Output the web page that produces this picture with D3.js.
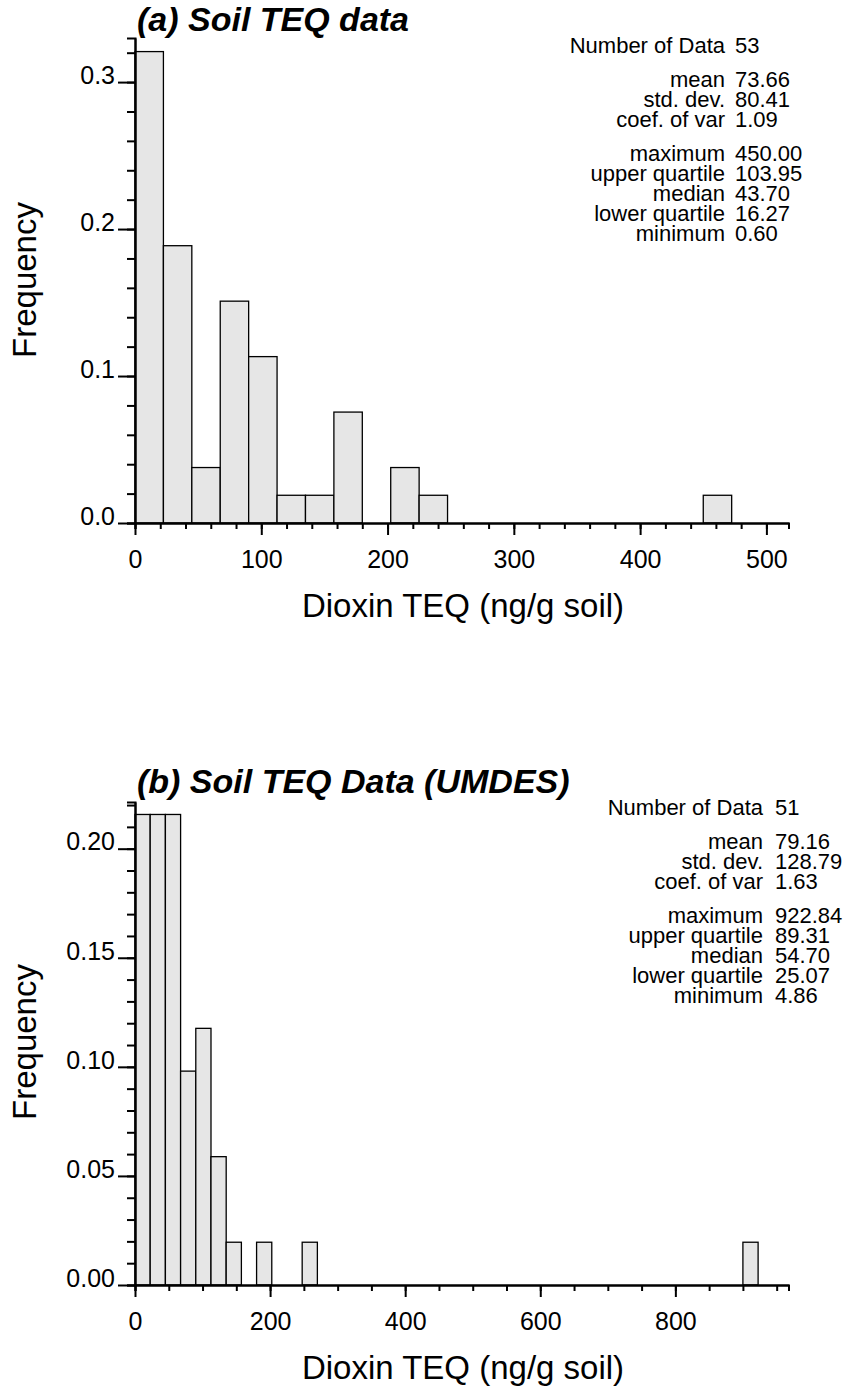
<!DOCTYPE html>
<html>
  <head>
    <meta charset="utf-8"/>
    <style>
    body {
      font-family: "Liberation Sans", Arial, sans-serif;
      margin: 0;
      background: #fff;
    }
    </style>
  </head>
  <body>
    <script src="https://d3js.org/d3.v7.min.js"></script>
    <script>
    var width = 851, height = 1387;

    // histogram bins (ng/g soil), same bin width for both panels
    var binWidth = 22.5;

    // (a) Soil TEQ data: counts per bin, starting at 0
    var countsA = [17, 10, 2, 8, 6, 1, 1, 4, 0, 2, 1, 0, 0, 0, 0, 0, 0, 0, 0, 0, 1, 0, 0];
    var totalA = 53;
    var statLabels = ["Number of Data", "mean", "std. dev.", "coef. of var",
                      "maximum", "upper quartile", "median", "lower quartile", "minimum"];
    var statsA = ["53", "73.66", "80.41", "1.09", "450.00", "103.95", "43.70", "16.27", "0.60"];
    var xTicksA = [0, 100, 200, 300, 400, 500];
    var yTicksA = [0, 0.1, 0.2, 0.3];

    // (b) Soil TEQ Data (UMDES)
    var countsB = [11, 11, 11, 5, 6, 3, 1, 0, 1, 0, 0, 1,
                   0, 0, 0, 0, 0, 0, 0, 0, 0, 0, 0, 0, 0, 0, 0, 0,
                   0, 0, 0, 0, 0, 0, 0, 0, 0, 0, 0, 0, 1, 0, 0];
    var totalB = 51;
    var statsB = ["51", "79.16", "128.79", "1.63", "922.84", "89.31", "54.70", "25.07", "4.86"];
    var xTicksB = [0, 200, 400, 600, 800];
    var yTicksB = [0, 0.05, 0.10, 0.15, 0.20];

    var svg = d3.select("body").append("svg")
        .attr("width", width)
        .attr("height", height);

    drawPanel({
      top: 0, title: "(a) Soil TEQ data", counts: countsA, total: totalA, stats: statsA,
      xMax: countsA.length * binWidth, yMax: 0.33, xTicks: xTicksA, xMinor: 20,
      yTicks: yTicksA, yMinor: 0.02, yFmt: ".1f", labelX: 725, valueX: 735,
      yBase: 523, yTop: 38
    });

    drawPanel({
      top: 762, title: "(b) Soil TEQ Data (UMDES)", counts: countsB, total: totalB, stats: statsB,
      xMax: countsB.length * binWidth, yMax: 0.2214, xTicks: xTicksB, xMinor: 50,
      yTicks: yTicksB, yMinor: 0.01, yFmt: ".2f", labelX: 763, valueX: 775,
      yBase: 523, yTop: 40
    });

    function drawPanel(c){

      var g = svg.append("g").attr("transform", "translate(0," + c.top + ")");

      var x = d3.scaleLinear().domain([0, c.xMax]).range([135, 788.5]);
      var y = d3.scaleLinear().domain([0, c.yMax]).range([c.yBase, c.yTop]);

      var bins = c.counts.map(function(n, i){
        return {x0: i * binWidth, x1: (i + 1) * binWidth, f: n / c.total};
      });

      g.selectAll(".bar")
          .data(bins)
        .enter().append("rect")
          .attr("class", "bar")
          .attr("x", function(d){ return x(d.x0); })
          .attr("y", function(d){ return y(d.f); })
          .attr("width", function(d){ return x(d.x1) - x(d.x0); })
          .attr("height", function(d){ return y(0) - y(d.f); })
          .attr("fill", "#e6e6e6")
          .attr("stroke", "#000")
          .attr("stroke-width", 1.3);

      // x axis: minor then major ticks
      var xMinorTicks = d3.range(0, c.xMax, c.xMinor);
      g.append("g")
          .attr("transform", "translate(0," + c.yBase + ")")
          .call(d3.axisBottom(x).tickValues(xMinorTicks).tickSize(6).tickFormat(""))
          .call(styleAxis);

      g.append("g")
          .attr("transform", "translate(0," + c.yBase + ")")
          .call(d3.axisBottom(x).tickValues(c.xTicks).tickSize(12).tickSizeOuter(0).tickFormat(d3.format("d")))
          .call(styleAxis)
          .selectAll("text")
          .attr("y", 27)
          .attr("dy", "0.71em")
          .attr("font-size", 25);

      // y axis
      var yMinorTicks = d3.range(0, c.yMax, c.yMinor);
      g.append("g")
          .attr("transform", "translate(135,0)")
          .call(d3.axisLeft(y).tickValues(yMinorTicks).tickSize(8).tickFormat(""))
          .call(styleAxis);

      g.append("g")
          .attr("transform", "translate(135,0)")
          .call(d3.axisLeft(y).tickValues(c.yTicks).tickSize(17).tickSizeOuter(0).tickFormat(d3.format(c.yFmt)))
          .call(styleAxis)
          .selectAll("text")
          .attr("x", -20)
          .attr("dy", "0.05em")
          .attr("font-size", 25);

      // titles
      g.append("text")
          .attr("x", 137)
          .attr("y", 31)
          .attr("font-size", 34)
          .attr("font-weight", "bold")
          .attr("font-style", "italic")
          .text(c.title);

      g.append("text")
          .attr("x", 463)
          .attr("y", 617)
          .attr("text-anchor", "middle")
          .attr("font-size", 33)
          .text("Dioxin TEQ (ng/g soil)");

      g.append("text")
          .attr("transform", "translate(36,280) rotate(-90)")
          .attr("text-anchor", "middle")
          .attr("font-size", 33)
          .text("Frequency");

      // statistics block
      var rowY = [53, 87, 107, 127, 161, 181, 201, 221, 241];
      var st = g.append("g").attr("font-size", 22);
      st.selectAll(".lab")
          .data(statLabels)
        .enter().append("text")
          .attr("class", "lab")
          .attr("x", c.labelX)
          .attr("y", function(d, i){ return rowY[i]; })
          .attr("text-anchor", "end")
          .text(function(d){ return d; });
      st.selectAll(".val")
          .data(c.stats)
        .enter().append("text")
          .attr("class", "val")
          .attr("x", c.valueX)
          .attr("y", function(d, i){ return rowY[i]; })
          .text(function(d){ return d; });
    }

    function styleAxis(sel){
      sel.attr("font-family", null);
      sel.select(".domain").attr("stroke", "#000").attr("stroke-width", 2);
      sel.selectAll(".tick line").attr("stroke", "#000").attr("stroke-width", 2);
      sel.selectAll(".tick text").attr("fill", "#000");
    }

    </script>
  </body>
</html>
